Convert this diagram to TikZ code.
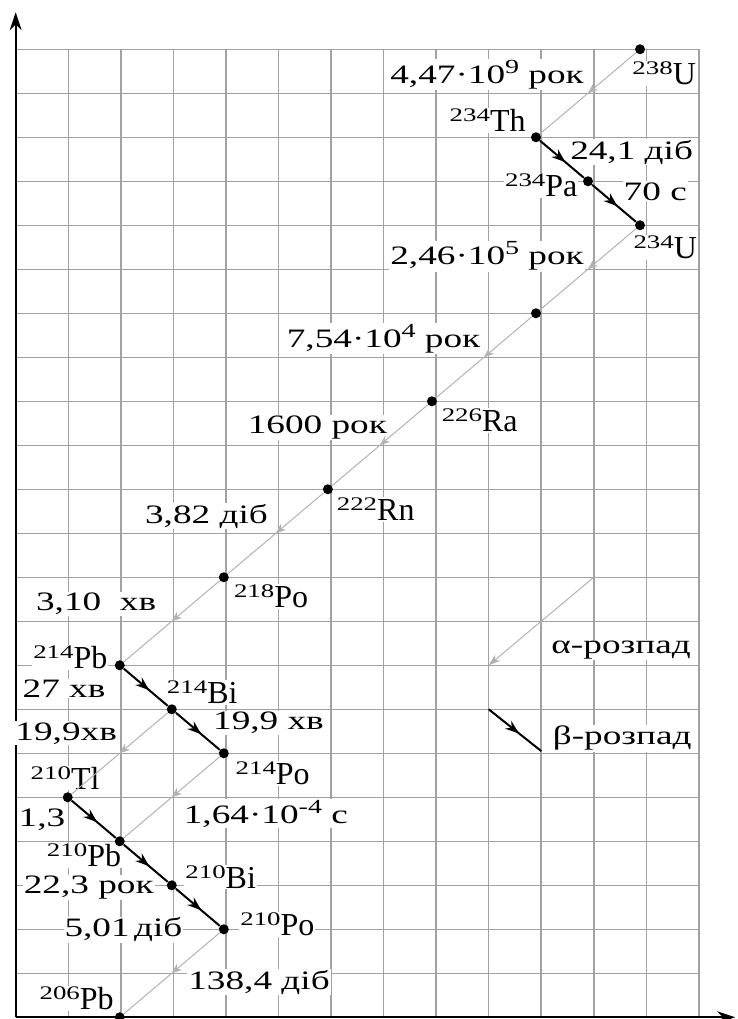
\documentclass[tikz,border=0pt]{standalone}
\usepackage{fontspec}
\setmainfont{Liberation Serif}
\newfontfamily\widefont[FakeStretch=1.4]{Liberation Serif}
\usetikzlibrary{arrows.meta,decorations.markings}
\definecolor{gridgray}{RGB}{162,162,162}
\definecolor{alphagray}{RGB}{178,178,178}
\newcommand{\nuclide}[2]{\raisebox{5pt}{\widefont\fontsize{9.6}{10}\selectfont #1}#2}
\newcommand{\pw}[1]{\raisebox{5pt}{\fontsize{10}{10}\selectfont #1}}

\begin{document}
\begin{tikzpicture}[x=26.275pt, y=22pt,
    gridline/.style={draw=gridgray, line width=0.75pt},
    axis/.style={line width=1pt, -{Stealth[length=9pt,width=6pt]}},
    nucl/.style={circle, fill=black, inner sep=0pt, minimum size=5pt},
    nuclbl/.style={anchor=base, fill=white, inner sep=0.5pt,
                   font=\fontsize{16}{18}\selectfont},
    timelbl/.style={anchor=base, fill=white, inner sep=0.5pt,
                    font=\widefont\fontsize{13.3}{15}\selectfont},
    alphadecay/.style={draw=alphagray, line width=0.5pt, postaction={decorate},
      decoration={markings, mark=at position 0.5 with
        {\arrow[alphagray]{Stealth[length=5pt,width=4pt]}}}},
    betadecay/.style={draw=black, line width=1pt, postaction={decorate},
      decoration={markings, mark=at position 0.58 with
        {\arrow{Stealth[length=7pt,width=5pt]}}}}
  ]
    \useasboundingbox (-0.299,-0.039) rectangle (13.726,23.12);

    % Grid and axes
    \foreach \c in {1,...,13} \draw[gridline] (\c,0) -- (\c,22);
    \foreach \r in {1,...,22} \draw[gridline] (0,\r) -- (13,\r);
    \coordinate (O) at (0,0);
    \coordinate (ytop) at (0,22.84);
    \coordinate (xend) at (13.69,0);
    \draw[axis] (O) -- (ytop);
    \draw[axis] (O) -- (xend);

    % Nuclide labels
    \node[nuclbl] (lU238)  at (12.34,21.19) {\nuclide{238}{U}};
    \node[nuclbl] (lTh234) at (8.98,20.13)  {\nuclide{234}{Th}};
    \node[nuclbl] (lPa234) at (10.0,18.65)  {\nuclide{234}{Pa}};
    \node[nuclbl] (lU234)  at (12.36,17.25) {\nuclide{234}{U}};
    \node[nuclbl] (lRa226) at (8.83,13.31)  {\nuclide{226}{Ra}};
    \node[nuclbl] (lRn222) at (6.85,11.29)  {\nuclide{222}{Rn}};
    \node[nuclbl] (lPo218) at (4.86,9.31)   {\nuclide{218}{Po}};
    \node[nuclbl] (lPb214) at (1.04,7.93)   {\nuclide{214}{Pb}};
    \node[nuclbl] (lBi214) at (3.55,7.12)   {\nuclide{214}{Bi}};
    \node[nuclbl] (lPo214) at (4.89,5.28)   {\nuclide{214}{Po}};
    \node[nuclbl] (lTl210) at (0.94,5.18)   {\nuclide{210}{Tl}};
    \node[nuclbl] (lPb210) at (1.30,3.42)   {\nuclide{210}{Pb}};
    \node[nuclbl] (lBi210) at (3.90,2.93)   {\nuclide{210}{Bi}};
    \node[nuclbl] (lPo210) at (4.98,1.85)   {\nuclide{210}{Po}};
    \node[nuclbl] (lPb206) at (1.16,0.17)   {\nuclide{206}{Pb}};

    % Half-lives
    \node[timelbl] (tU238)  at (8.97,21.23) {4,47·10\pw{9} рок};
    \node[timelbl] (tTh234) at (11.72,19.5) {24,1 діб};
    \node[timelbl] (tPa234) at (12.17,18.57) {70 с};
    \node[timelbl] (tU234)  at (8.97,17.1)  {2,46·10\pw{5} рок};
    \node[timelbl] (tTh230) at (7.0,15.22)  {7,54·10\pw{4} рок};
    \node[timelbl] (tRa226) at (5.74,13.26) {1600 рок};
    \node[timelbl] (tRn222) at (3.63,11.23) {3,82 діб};
    \node[timelbl] (tPo218) at (1.53,9.24)  {3,10~~хв};
    \node[timelbl] (tPb214) at (0.92,7.27)  {27 хв};
    \node[timelbl] (tBiB)   at (4.81,6.53)  {19,9 хв};
    \node[timelbl] (tBiA)   at (0.96,6.30)  {19,9хв};
    \node[timelbl] (tPo214) at (4.76,4.41)  {1,64·10\pw{-4} с};
    \node[timelbl] (tTl210) at (0.50,4.33)  {1,3};
    \node[timelbl] (tPb210) at (1.39,2.81)  {22,3 рок};
    \node[timelbl] (tBi210) at (2.05,1.83)  {5,01\,діб};
    \node[timelbl] (tPo210) at (4.63,0.64)  {138,4 діб};

    % Nuclides
    \begin{scope}[xscale=0.99]
      \node[nucl] (U238)  at (12,22) {};
      \node[nucl] (Th234) at (10,20) {};
      \node[nucl] (Pa234) at (11,19) {};
      \node[nucl] (U234)  at (12,18) {};
      \node[nucl] (Th230) at (10,16) {};
      \node[nucl] (Ra226) at (8,14) {};
      \node[nucl] (Rn222) at (6,12) {};
      \node[nucl] (Po218) at (4,10) {};
      \node[nucl] (Pb214) at (2,8) {};
      \node[nucl] (Bi214) at (3,7) {};
      \node[nucl] (Po214) at (4,6) {};
      \node[nucl] (Tl210) at (1,5) {};
      \node[nucl] (Pb210) at (2,4) {};
      \node[nucl] (Bi210) at (3,3) {};
      \node[nucl] (Po210) at (4,2) {};
      \node[nucl] (Pb206) at (2,0) {};
    \end{scope}

    % Alpha decays
    \draw[alphadecay] (U238) -- (Th234);
    \draw[alphadecay] (U234) -- (Th230);
    \draw[alphadecay] (Th230) -- (Ra226);
    \draw[alphadecay] (Ra226) -- (Rn222);
    \draw[alphadecay] (Rn222) -- (Po218);
    \draw[alphadecay] (Po218) -- (Pb214);
    \draw[alphadecay] (Bi214) -- (Tl210);
    \draw[alphadecay] (Po214) -- (Pb210);
    \draw[alphadecay] (Po210) -- (Pb206);

    % Beta decays
    \draw[betadecay] (Th234) -- (Pa234);
    \draw[betadecay] (Pa234) -- (U234);
    \draw[betadecay] (Pb214) -- (Bi214);
    \draw[betadecay] (Bi214) -- (Po214);
    \draw[betadecay] (Tl210) -- (Pb210);
    \draw[betadecay] (Pb210) -- (Bi210);
    \draw[betadecay] (Bi210) -- (Po210);

    % Legend
    \coordinate (alA) at (11,10);
    \coordinate (alB) at (9,8);
    \coordinate (beA) at (9,7);
    \coordinate (beB) at (10,6.05);
    \draw[draw=alphagray, line width=0.5pt, -{Stealth[length=6pt,width=4pt]}] (alA) -- (alB);
    \draw[betadecay] (beA) -- (beB);
    \node[timelbl] (lalpha) at (11.52,8.27) {α-розпад};
    \node[timelbl] (lbeta)  at (11.54,6.19) {β-розпад};
  \end{tikzpicture}
\end{document}
